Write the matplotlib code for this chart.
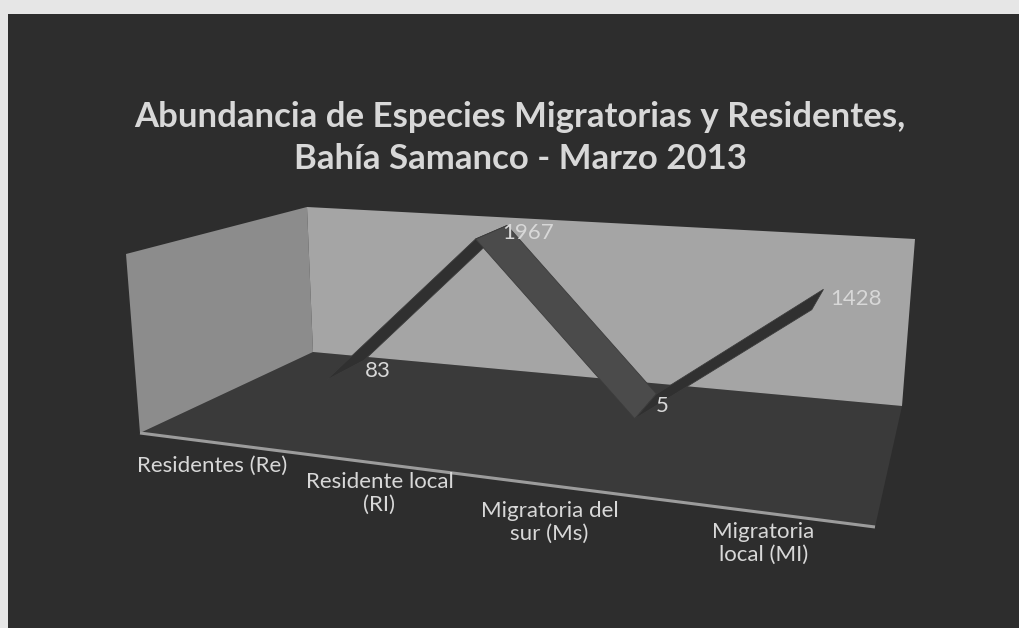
import numpy as np
import matplotlib
matplotlib.use("Agg")
import matplotlib.pyplot as plt
from matplotlib.patches import Polygon

# data
categories = ["Residentes (Re)", "Residente local\n(RI)", "Migratoria del\nsur (Ms)", "Migratoria\nlocal (MI)"]
values = [83, 1967, 5, 1428]
zmax = 2000.0
title = "Abundancia de Especies Migratorias y Residentes,\nBahía Samanco - Marzo 2013"

# scene geometry (pixels of the photographed 3d box)
floor_px = {(0, 0): (140, 433), (1, 0): (875, 527), (0, 1): (313, 352), (1, 1): (902, 406)}
vert_px = {(0, 0): (-14, -179), (1, 0): (15, -205), (0, 1): (-6, -145), (1, 1): (13, -167)}
rib_v0, rib_v1 = 0.63, 0.89
persp = 0.6  # blend between flat and projective floor

bg = "#2d2d2d"
txt = "#d8d8d8"


def homography(src, dst):
    A = []
    b = []
    for (x, y), (X, Y) in zip(src, dst):
        A.append([x, y, 1, 0, 0, 0, -X * x, -X * y]); b.append(X)
        A.append([0, 0, 0, x, y, 1, -Y * x, -Y * y]); b.append(Y)
    h = np.linalg.solve(np.array(A, float), np.array(b, float))
    return np.append(h, 1).reshape(3, 3)


keys = list(floor_px.keys())
H = homography(keys, [floor_px[k] for k in keys])


def bil(tab, u, v):
    x = sum(tab[k][0] * (u if k[0] else 1 - u) * (v if k[1] else 1 - v) for k in keys)
    y = sum(tab[k][1] * (u if k[0] else 1 - u) * (v if k[1] else 1 - v) for k in keys)
    return x, y


def proj(u, v, w):
    p = H @ np.array([u, v, 1.0])
    hx, hy = p[0] / p[2], p[1] / p[2]
    lx, ly = bil(floor_px, u, v)
    x = persp * hx + (1 - persp) * lx
    y = persp * hy + (1 - persp) * ly
    vx, vy = bil(vert_px, u, v)
    return (x + w * vx, y + w * vy)


fig = plt.figure(figsize=(10.2, 6.28), dpi=100)
fig.patch.set_facecolor("#e6e6e6")
ax = fig.add_axes([0, 0, 1, 1])
ax.set_xlim(0, 1020)
ax.set_ylim(628, 0)
ax.axis("off")

# dark screen area of the photo
ax.add_patch(Polygon([(8, 14), (1020, 14), (1020, 628), (8, 628)], closed=True, fc=bg, ec="none"))

# floor, left wall, back wall
floor = [proj(0, 0, 0), proj(1, 0, 0), proj(1, 1, 0), proj(0, 1, 0)]
ax.add_patch(Polygon(floor, closed=True, fc="#3a3a3a", ec="none"))
left = [proj(0, 0, 0), proj(0, 1, 0), proj(0, 1, 1), proj(0, 0, 1)]
ax.add_patch(Polygon(left, closed=True, fc="#8c8c8c", ec="none"))
back = [proj(0, 1, 0), proj(1, 1, 0), proj(1, 1, 1), proj(0, 1, 1)]
ax.add_patch(Polygon(back, closed=True, fc="#a5a5a5", ec="none"))
fx = [proj(0, 0, 0)[0], proj(1, 0, 0)[0]]
fy = [proj(0, 0, 0)[1], proj(1, 0, 0)[1]]
ax.plot(fx, fy, color="#9c9c9c", lw=2.2, solid_capstyle="butt")

# ribbon
n = len(values)
us = [(i + 0.5) / n for i in range(n)]
ws = [v / zmax for v in values]
for i in range(n - 1):
    poly = [proj(us[i], rib_v0, ws[i]), proj(us[i + 1], rib_v0, ws[i + 1]),
            proj(us[i + 1], rib_v1, ws[i + 1]), proj(us[i], rib_v1, ws[i])]
    col = "#4b4b4b" if values[i + 1] < values[i] else "#303030"
    ax.add_patch(Polygon(poly, closed=True, fc=col, ec="#3c3c3c", lw=0.6))

# data labels
lab_off = [(1, 11), (-5, 8), (-1, 12), (7, 10)]
for i in range(n):
    x, y = proj(us[i], rib_v1, ws[i])
    ax.text(x + lab_off[i][0], y + lab_off[i][1], str(values[i]), color=txt,
            fontsize=16, family="Lato", ha="left", va="center")

# category labels along the front edge
cat_off = [(-9, 22), (-12, 28), (-24, 34), (-7, 30)]
for i in range(n):
    x, y = proj(us[i], 0, 0)
    ax.text(x + cat_off[i][0], y + cat_off[i][1], categories[i], color=txt,
            fontsize=16, family="Lato", ha="center", va="center", linespacing=1.2)

ax.text(520, 138, title, color=txt, fontsize=25, family="Lato", weight="bold",
        ha="center", va="center", linespacing=1.4)

fig.savefig("out.png", dpi=100, facecolor=fig.get_facecolor())
